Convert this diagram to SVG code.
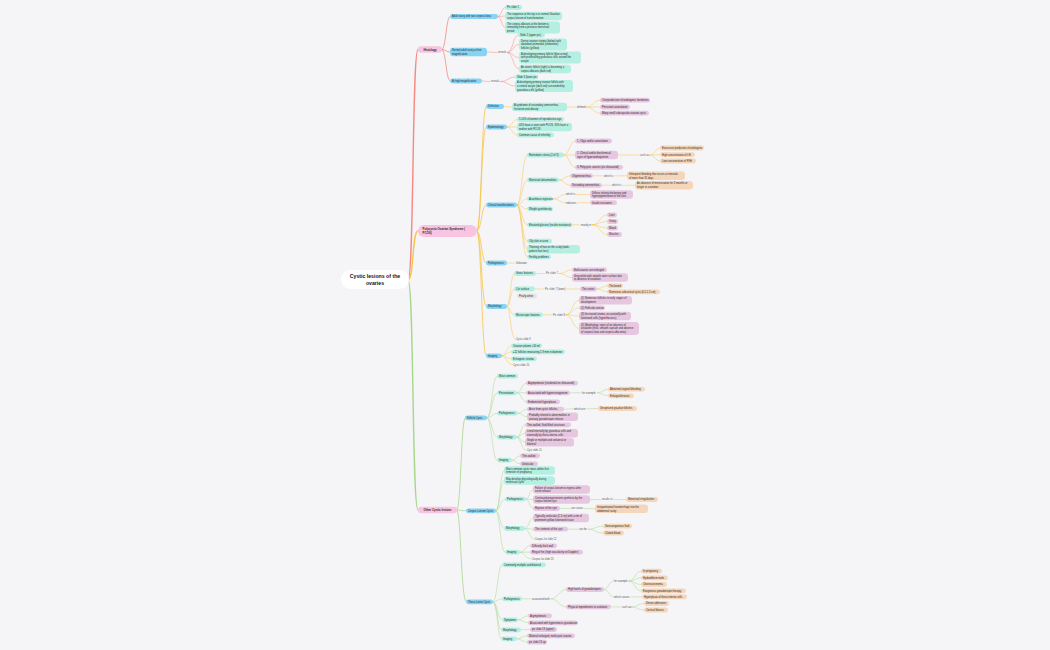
<svg xmlns="http://www.w3.org/2000/svg" width="1050" height="650" viewBox="0 0 1050 650">
<style>
text{font-family:"Liberation Sans",Arial,sans-serif;font-size:2.6px;fill:#2b2b2b}
.l{fill:#555}
.h{font-weight:bold;font-size:2.9px}
.root{font-weight:bold;font-size:5.2px;fill:#111}
.a{fill:#f9c4e1}.b{fill:#86d3f3}.c{fill:#b4efe2}.d{fill:#e7c6df}.e{fill:#f6d6ba}.g{fill:#e4e4e4}
path{fill:none;stroke-linecap:round}
.er{stroke:#f58a80}.ey{stroke:#f6c54a}.eg{stroke:#a6d78a}
.w1{stroke-width:1.4}.w2{stroke-width:0.8}.w3{stroke-width:0.5}
</style>
<rect width="1050" height="650" fill="#f5f5f7"/>
<g id="connectors">
<path class="er w1" d="M408 280 C414 280 412 49.5 418 49.5"/>
<path class="ey w1" d="M408 280 C414 280 412 231 418 231"/>
<path class="eg w1" d="M408 280 C414 280 412 510 418 510"/>
<g class="er w2">
<path d="M442 49.5 C446 49.5 446 16.5 450 16.5"/>
<path d="M442 49.5 C446 49.5 446 52 450 52"/>
<path d="M442 49.5 C446 49.5 446 81 450 81"/>
</g>
<g class="er w3">
<path d="M498 16.5 C501.5 16.5 501.5 7.5 505 7.5"/>
<path d="M498 16.5 C501.5 16.5 501.5 16 505 16"/>
<path d="M498 16.5 C501.5 16.5 501.5 27.5 505 27.5"/>
<path d="M487 52 L497 52.5"/>
<path d="M507.5 52.5 C513 52.5 513 35 518 35"/>
<path d="M507.5 52.5 C513 52.5 513 44.5 519 44.5"/>
<path d="M507.5 52.5 C513 52.5 513 57.5 519 57.5"/>
<path d="M507.5 52.5 C513 52.5 513 69 519 69"/>
<path d="M482 81 L490 81.5"/>
<path d="M500.5 81.5 C508 81.5 508 77 515 77"/>
<path d="M500.5 81.5 C508 81.5 508 86 515 86"/>
</g>
<g class="ey w2">
<path d="M477 231 C481.5 231 481.5 106.5 486 106.5"/>
<path d="M477 231 C481.5 231 481.5 127 486 127"/>
<path d="M477 231 C481.5 231 481.5 205 486 205"/>
<path d="M477 231 C481.5 231 481.5 263 486 263"/>
<path d="M477 231 C481.5 231 481.5 306.5 486 306.5"/>
<path d="M477 231 C481.5 231 481.5 355.8 486 355.8"/>
</g>
<g class="ey w3">
<path d="M504 106.5 C508 106.5 508 107 512 107"/>
<path d="M567 107 L576 107"/>
<path d="M586.5 107 C593.3 107 593.3 100.2 600 100.2"/>
<path d="M586.5 107 L600 107"/>
<path d="M586.5 107 C593.3 107 593.3 113.2 600 113.2"/>
<path d="M507 127 C512 127 512 119.5 517 119.5"/>
<path d="M507 127 L517 127"/>
<path d="M507 127 C512 127 512 135 517 135"/>
<path d="M517 205 C522 205 522 155 527 155"/>
<path d="M517 205 C522 205 522 180 527 180"/>
<path d="M517 205 C522 205 522 198.8 527 198.8"/>
<path d="M517 205 C522 205 522 208.8 527 208.8"/>
<path d="M517 205 C522 205 522 224.8 527 224.8"/>
<path d="M517 205 C522 205 522 241.2 527 241.2"/>
<path d="M517 205 C522 205 522 249.2 527 249.2"/>
<path d="M517 205 C522 205 522 256.8 527 256.8"/>
<path d="M564 155 C569.5 155 569.5 141 575 141"/>
<path d="M564 155 L575 155"/>
<path d="M564 155 C569.5 155 569.5 167.3 575 167.3"/>
<path d="M618 155 L639 155"/>
<path d="M650 155 C655 155 655 148 660 148"/>
<path d="M650 155 C655 155 655 154.7 660 154.7"/>
<path d="M650 155 C655 155 655 161 660 161"/>
<path d="M559 180 C564.5 180 564.5 175.8 570 175.8"/>
<path d="M559 180 C564.5 180 564.5 185.3 570 185.3"/>
<path d="M593 175.8 L603 175.8"/>
<path d="M614.2 175.8 L627 175.8"/>
<path d="M602 185.3 L611 185.3"/>
<path d="M622.2 185.3 L635 185.3"/>
<path d="M553 198.8 C559.5 198.8 559.5 194.5 565.5 194.5"/>
<path d="M553 198.8 C559.5 198.8 559.5 202.7 565.5 202.7"/>
<path d="M576.2 194.5 L590 194.5"/>
<path d="M577.3 202.7 L590 202.7"/>
<path d="M572 224.8 L580 224.8"/>
<path d="M592.3 224.8 C599.6 224.8 599.6 215 607 215"/>
<path d="M592.3 224.8 C599.6 224.8 599.6 221.5 607 221.5"/>
<path d="M592.3 224.8 C599.6 224.8 599.6 228 607 228"/>
<path d="M592.3 224.8 C599.6 224.8 599.6 234.5 607 234.5"/>
<path d="M507 263 L515 263"/>
<path d="M507 306.5 C510.5 306.5 510.5 273.5 514 273.5"/>
<path d="M507 306.5 C510.5 306.5 510.5 289 514 289"/>
<path d="M507 306.5 C510.5 306.5 510.5 314.8 514 314.8"/>
<path d="M507 306.5 C510.5 306.5 510.5 339.5 515.5 339.5"/>
<path d="M536 273.5 L545 273.5"/>
<path d="M559 273.5 C565.5 273.5 565.5 269.8 572 269.8"/>
<path d="M559 273.5 C565.5 273.5 565.5 277.5 572 277.5"/>
<path d="M535 289 L544 289"/>
<path d="M566.5 289 L580 289"/>
<path d="M597 289 C602 289 602 285.8 607 285.8"/>
<path d="M597 289 C602 289 602 291.8 607 291.8"/>
<path d="M543 314.8 L552 314.8"/>
<path d="M566 314.8 C572.5 314.8 572.5 300.2 579 300.2"/>
<path d="M566 314.8 C572.5 314.8 572.5 307.8 579 307.8"/>
<path d="M566 314.8 C572.5 314.8 572.5 316 579 316"/>
<path d="M566 314.8 C572.5 314.8 572.5 328.5 579 328.5"/>
<path d="M502 355.8 C506.5 355.8 506.5 345.8 511 345.8"/>
<path d="M502 355.8 C506.5 355.8 506.5 351.8 511 351.8"/>
<path d="M502 355.8 C506.5 355.8 506.5 358.8 511 358.8"/>
<path d="M502 355.8 C506.5 355.8 506.5 364.8 512.5 364.8"/>
</g>
<g class="eg w2">
<path d="M457 510 C461 510 461 417.8 465 417.8"/>
<path d="M457 510 C461 510 461 510.8 466 510.8"/>
<path d="M457 510 C461 510 461 601.8 466 601.8"/>
</g>
<g class="eg w3">
<path d="M487 417.8 C492 417.8 492 376.2 497 376.2"/>
<path d="M487 417.8 C492 417.8 492 392.8 497 392.8"/>
<path d="M487 417.8 C492 417.8 492 413.2 497 413.2"/>
<path d="M487 417.8 C492 417.8 492 437.2 497 437.2"/>
<path d="M487 417.8 C492 417.8 492 460.2 497 460.2"/>
<path d="M517 392.8 C521.5 392.8 521.5 383.2 526 383.2"/>
<path d="M517 392.8 L526 392.8"/>
<path d="M517 392.8 C521.5 392.8 521.5 401.8 526 401.8"/>
<path d="M570 392.8 L581 392.8"/>
<path d="M597.5 392.8 C602.7 392.8 602.7 389.2 608 389.2"/>
<path d="M597.5 392.8 C602.7 392.8 602.7 395.8 608 395.8"/>
<path d="M518 413.2 C522.5 413.2 522.5 409.2 527 409.2"/>
<path d="M518 413.2 C522.5 413.2 522.5 416.8 527 416.8"/>
<path d="M564 409.2 L573 408.8"/>
<path d="M586.2 408.8 L598 408.5"/>
<path d="M517 437.2 C521 437.2 521 424.8 525 424.8"/>
<path d="M517 437.2 C521 437.2 521 433.2 525 433.2"/>
<path d="M517 437.2 C521 437.2 521 442.2 525 442.2"/>
<path d="M517 437.2 C521 437.2 521 450.5 526.5 450.5"/>
<path d="M512 460.2 C516 460.2 516 455.8 520 455.8"/>
<path d="M512 460.2 C516 460.2 516 463.8 520 463.8"/>
<path d="M496 510.8 C500 510.8 500 470.5 504 470.5"/>
<path d="M496 510.8 C500 510.8 500 480.5 504 480.5"/>
<path d="M496 510.8 C500 510.8 500 499.2 505 499.2"/>
<path d="M496 510.8 C500 510.8 500 528.5 504 528.5"/>
<path d="M496 510.8 C500 510.8 500 552.2 505 552.2"/>
<path d="M526 499.2 C529.5 499.2 529.5 489.5 533 489.5"/>
<path d="M526 499.2 L533 499.5"/>
<path d="M526 499.2 C529.5 499.2 529.5 508.5 533 508.5"/>
<path d="M590 499.5 L601 499.5"/>
<path d="M613.5 499.5 L626 499.5"/>
<path d="M560 508.5 L570 508.5"/>
<path d="M584 508.5 L595 508.8"/>
<path d="M525 528.5 C529 528.5 529 518 533 518"/>
<path d="M525 528.5 C529 528.5 529 529.2 533 529.2"/>
<path d="M525 528.5 C529 528.5 529 539 534.5 539"/>
<path d="M568 529.2 L578 529.2"/>
<path d="M588 529.2 C595.5 529.2 595.5 526.2 603 526.2"/>
<path d="M588 529.2 C595.5 529.2 595.5 533 603 533"/>
<path d="M520 552.2 C525 552.2 525 545.8 530 545.8"/>
<path d="M520 552.2 L530 552.2"/>
<path d="M520 552.2 C525 552.2 525 559 531.5 559"/>
<path d="M493 601.8 C497.5 601.8 497.5 564.8 502 564.8"/>
<path d="M493 601.8 C497.5 601.8 497.5 598.8 502 598.8"/>
<path d="M493 601.8 C497.5 601.8 497.5 619.8 502 619.8"/>
<path d="M493 601.8 C497.5 601.8 497.5 629.8 501 629.8"/>
<path d="M493 601.8 C497.5 601.8 497.5 638.8 501 638.8"/>
<path d="M522 598.8 L531 598.8"/>
<path d="M551 598.8 C558.5 598.8 558.5 589.5 566 589.5"/>
<path d="M551 598.8 C558.5 598.8 558.5 606.8 566 606.8"/>
<path d="M604 589.5 C608.8 589.5 608.8 581 613.5 581"/>
<path d="M604 589.5 C608.8 589.5 608.8 597 613.5 597"/>
<path d="M628.8 581 C635 581 635 571.2 641 571.2"/>
<path d="M628.8 581 C635 581 635 577.8 641 577.8"/>
<path d="M628.8 581 C635 581 635 584.5 641 584.5"/>
<path d="M628.8 581 C635 581 635 590.8 641 590.8"/>
<path d="M631 597 L642 596.8"/>
<path d="M611 606.8 L621 607"/>
<path d="M631 607 C637.5 607 637.5 603.5 644 603.5"/>
<path d="M631 607 C637.5 607 637.5 610 644 610"/>
<path d="M518 619.8 C523 619.8 523 615.8 528 615.8"/>
<path d="M518 619.8 C523 619.8 523 622.8 528 622.8"/>
<path d="M521 629.8 L530 629.5"/>
<path d="M517 638.8 C522 638.8 522 635.8 527 635.8"/>
<path d="M517 638.8 C522 638.8 522 642.2 527 642.2"/>
</g>
</g>
<g id="root"><rect x="341" y="270" width="68" height="19" rx="9.5" fill="#ffffff"/><text class="root" x="375" y="278.3" text-anchor="middle">Cystic lesions of the</text><text class="root" x="375" y="285" text-anchor="middle">ovaries</text></g>
<g id="histology"><rect class="a" x="418" y="46.3" width="24" height="6.4" rx="3.2"/><text class="h" x="430" y="50.5" text-anchor="middle">Histology</text></g>
<g id="h-adult"><rect class="b" x="450" y="14.1" width="48" height="4.8" rx="2.4"/><text x="452" y="17.4">Adult ovary with two corpora lutea</text></g>
<g id="h-pic1"><rect class="c" x="505" y="5.1" width="17" height="4.8" rx="2.4"/><text x="507" y="8.4">Pic slide 1</text></g>
<g id="h-seq"><rect class="c" x="505" y="11.8" width="57" height="8.4" rx="3"/><text x="507" y="15.1">The sequence at the top is in normal Graafian<tspan x="507" dy="3.6">corpus luteum of transformation</tspan></text></g>
<g id="h-ca"><rect class="c" x="505" y="21.5" width="55" height="12" rx="3"/><text x="507" y="24.8">The corpus albicans at the bottom is<tspan x="507" dy="3.6">remaining from a previous menstrual</tspan><tspan x="507" dy="3.6">period</tspan></text></g>
<g id="h-normal"><rect class="b" x="450" y="47.8" width="37" height="8.4" rx="3"/><text x="452" y="51.1">Normal adult ovary at low<tspan x="452" dy="3.6">magnification</tspan></text></g>
<g id="h-rev1"><text class="l" x="498" y="53.4">reveals</text></g>
<g id="h-slide2"><rect class="c" x="518" y="32.6" width="27" height="4.8" rx="2.4"/><text x="520" y="35.9">Slide 2 (upper pic)</text></g>
<g id="h-dense"><rect class="c" x="519" y="38.5" width="48" height="12" rx="3"/><text x="521" y="41.8">Dense ovarian stroma (below) with<tspan x="521" dy="3.6">abundant primordial (unilaminar)</tspan><tspan x="521" dy="3.6">follicles (yellow)</tspan></text></g>
<g id="h-dev"><rect class="c" x="519" y="51.5" width="62" height="12" rx="3"/><text x="521" y="54.8">A developing primary follicle (blue arrow)<tspan x="521" dy="3.6">with proliferating granulosa cells around the</tspan><tspan x="521" dy="3.6">oocyte</tspan></text></g>
<g id="h-atretic"><rect class="c" x="519" y="64.8" width="52" height="8.4" rx="3"/><text x="521" y="68.1">An atretic follicle (right) is becoming a<tspan x="521" dy="3.6">corpus albicans (dark red)</tspan></text></g>
<g id="h-high"><rect class="b" x="450" y="78.6" width="32" height="4.8" rx="2.4"/><text x="452" y="81.9">At high magnification</text></g>
<g id="h-rev2"><text class="l" x="491" y="82.4">reveals</text></g>
<g id="h-slide3"><rect class="c" x="515" y="74.6" width="22" height="4.8" rx="2.4"/><text x="517" y="77.9">Slide 3 (lower pic)</text></g>
<g id="h-primary"><rect class="c" x="515" y="80" width="58" height="12" rx="3"/><text x="517" y="83.3">A developing primary ovarian follicle with<tspan x="517" dy="3.6">a central oocyte (dark red) surrounded by</tspan><tspan x="517" dy="3.6">granulosa cells (yellow)</tspan></text></g>
<g id="pcos"><rect class="a" x="418" y="225" width="59" height="12" rx="6"/><text class="h" x="422.5" y="230.2">Polycystic Ovarian Syndrome (<tspan x="422.5" dy="3.8">PCOS)</tspan></text></g>
<g id="p-def"><rect class="b" x="486" y="104.1" width="18" height="4.8" rx="2.4"/><text x="488" y="107.4">Definition</text></g>
<g id="p-syn"><rect class="c" x="512" y="102.8" width="55" height="8.4" rx="3"/><text x="514" y="106.1">A syndrome of secondary amenorrhea,<tspan x="514" dy="3.6">hirsutism and obesity</tspan></text></g>
<g id="p-defined"><text class="l" x="577" y="107.9">defined</text></g>
<g id="p-over"><rect class="d" x="600" y="97.8" width="50" height="4.8" rx="2.4"/><text x="602" y="101.1">Overproduction of androgenic hormones</text></g>
<g id="p-pers"><rect class="d" x="600" y="104.6" width="30" height="4.8" rx="2.4"/><text x="602" y="107.9">Persistent anovulation</text></g>
<g id="p-many"><rect class="d" x="600" y="110.8" width="49" height="4.8" rx="2.4"/><text x="602" y="114.1">Many small subcapsular ovarian cysts</text></g>
<g id="p-epi"><rect class="b" x="486" y="124.6" width="21" height="4.8" rx="2.4"/><text x="488" y="127.9">Epidemiology</text></g>
<g id="p-e1"><rect class="c" x="517" y="117.1" width="47" height="4.8" rx="2.4"/><text x="519" y="120.4">5-10% of women of reproductive age</text></g>
<g id="p-e2"><rect class="c" x="517" y="122.8" width="55" height="8.4" rx="3"/><text x="519" y="126.1">40% have a sister with PCOS, 35% have a<tspan x="519" dy="3.6">mother with PCOS</tspan></text></g>
<g id="p-e3"><rect class="c" x="517" y="132.6" width="37" height="4.8" rx="2.4"/><text x="519" y="135.9">Common cause of infertility</text></g>
<g id="p-clin"><rect class="b" x="486" y="202.6" width="31" height="4.8" rx="2.4"/><text x="488" y="205.9">Clinical manifestations</text></g>
<g id="p-rot"><rect class="c" x="527" y="152.6" width="37" height="4.8" rx="2.4"/><text x="529" y="155.9">Rotterdam criteria (2 of 3)</text></g>
<g id="p-r1"><rect class="d" x="575" y="138.6" width="37" height="4.8" rx="2.4"/><text x="577" y="141.9">1. Oligo and/or anovulation</text></g>
<g id="p-r2"><rect class="d" x="575" y="150.8" width="43" height="8.4" rx="3"/><text x="577" y="154.1">2. Clinical and/or biochemical<tspan x="577" dy="3.6">signs of hyperandrogenism</tspan></text></g>
<g id="p-suchas"><text class="l" x="640" y="155.9">such as</text></g>
<g id="p-x1"><rect class="e" x="660" y="145.6" width="44" height="4.8" rx="2.4"/><text x="662" y="148.9">Excessive production of androgens</text></g>
<g id="p-x2"><rect class="e" x="660" y="152.3" width="35" height="4.8" rx="2.4"/><text x="662" y="155.6">High concentration of LH</text></g>
<g id="p-x3"><rect class="e" x="660" y="158.6" width="36" height="4.8" rx="2.4"/><text x="662" y="161.9">Low concentration of FSH</text></g>
<g id="p-r3"><rect class="d" x="575" y="164.9" width="48" height="4.8" rx="2.4"/><text x="577" y="168.2">3. Polycystic ovaries (on ultrasound)</text></g>
<g id="p-men"><rect class="c" x="527" y="177.6" width="32" height="4.8" rx="2.4"/><text x="529" y="180.9">Menstrual abnormalities</text></g>
<g id="p-oligo"><rect class="d" x="570" y="173.4" width="23" height="4.8" rx="2.4"/><text x="572" y="176.7">Oligomenorrhea</text></g>
<g id="p-wi1"><text class="l" x="604" y="176.7">which is</text></g>
<g id="p-infreq"><rect class="e" x="627" y="171.6" width="58" height="8.4" rx="3"/><text x="629" y="174.9">Infrequent bleeding that occurs at intervals<tspan x="629" dy="3.6">of more than 35 days</tspan></text></g>
<g id="p-sec"><rect class="d" x="570" y="182.9" width="32" height="4.8" rx="2.4"/><text x="572" y="186.2">Secondary amenorrhea</text></g>
<g id="p-wi2"><text class="l" x="612" y="186.2">which is</text></g>
<g id="p-abs"><rect class="e" x="635" y="181.1" width="58" height="8.4" rx="3"/><text x="637" y="184.4">An absence of menstruation for 3 months or<tspan x="637" dy="3.6">longer in a woman</tspan></text></g>
<g id="p-acan"><rect class="c" x="527" y="196.4" width="26" height="4.8" rx="2.4"/><text x="529" y="199.7">Acanthosis nigricans</text></g>
<g id="p-wi3"><text class="l" x="566" y="195.4">which is</text></g>
<g id="p-diff"><rect class="d" x="590" y="190.3" width="43" height="8.4" rx="3"/><text x="592" y="193.6">Diffuse velvety thickening and<tspan x="592" dy="3.6">hyperpigmentation of the skin</tspan></text></g>
<g id="p-ind"><text class="l" x="566" y="203.6">indicates</text></g>
<g id="p-ins"><rect class="d" x="590" y="200.3" width="27" height="4.8" rx="2.4"/><text x="592" y="203.6">Insulin resistance</text></g>
<g id="p-wt"><rect class="c" x="527" y="206.4" width="26" height="4.8" rx="2.4"/><text x="529" y="209.7">Weight gain/obesity</text></g>
<g id="p-elev"><rect class="c" x="527" y="222.4" width="45" height="4.8" rx="2.4"/><text x="529" y="225.7">Elevated glucose (insulin resistance)</text></g>
<g id="p-mainly"><text class="l" x="581" y="225.7">mainly in</text></g>
<g id="p-liver"><rect class="d" x="607" y="212.6" width="10" height="4.8" rx="2.4"/><text x="609" y="215.9">Liver</text></g>
<g id="p-ovary"><rect class="d" x="607" y="219.1" width="11" height="4.8" rx="2.4"/><text x="609" y="222.4">Ovary</text></g>
<g id="p-blood"><rect class="d" x="607" y="225.6" width="11" height="4.8" rx="2.4"/><text x="609" y="228.9">Blood</text></g>
<g id="p-musc"><rect class="d" x="607" y="232.1" width="15" height="4.8" rx="2.4"/><text x="609" y="235.4">Muscles</text></g>
<g id="p-oily"><rect class="c" x="527" y="238.8" width="25" height="4.8" rx="2.4"/><text x="529" y="242.1">Oily skin or acne</text></g>
<g id="p-thin"><rect class="c" x="527" y="245" width="53" height="8.4" rx="3"/><text x="529" y="248.3">Thinning of hair on the scalp (male-<tspan x="529" dy="3.6">pattern hair loss)</tspan></text></g>
<g id="p-fert"><rect class="c" x="527" y="254.4" width="24" height="4.8" rx="2.4"/><text x="529" y="257.7">Fertility problems</text></g>
<g id="p-path"><rect class="b" x="486" y="260.6" width="21" height="4.8" rx="2.4"/><text x="488" y="263.9">Pathogenesis</text></g>
<g id="p-unk"><text class="l" x="516" y="263.9">Unknown</text></g>
<g id="p-morph"><rect class="b" x="486" y="304.1" width="21" height="4.8" rx="2.4"/><text x="488" y="307.4">Morphology</text></g>
<g id="p-gross"><rect class="c" x="514" y="271.1" width="22" height="4.8" rx="2.4"/><text x="516" y="274.4">Gross features</text></g>
<g id="p-pic7"><text class="l" x="546" y="274.4">Pic slide 7</text></g>
<g id="p-both"><rect class="d" x="572" y="267.4" width="35" height="4.8" rx="2.4"/><text x="574" y="270.7">Both ovaries are enlarged</text></g>
<g id="p-grey"><rect class="d" x="572" y="273.3" width="56" height="8.4" rx="3"/><text x="574" y="276.6">Grey white with smooth outer surface due<tspan x="574" dy="3.6">to absence of ovulation</tspan></text></g>
<g id="p-cut"><rect class="c" x="514" y="286.6" width="21" height="4.8" rx="2.4"/><text x="516" y="289.9">Cut surface</text></g>
<g id="p-pic7l"><text class="l" x="545" y="289.9">Pic slide 7 (lower)</text></g>
<g id="p-cortex"><rect class="d" x="580" y="286.6" width="17" height="4.8" rx="2.4"/><text x="582" y="289.9">The cortex</text></g>
<g id="p-thick"><rect class="e" x="607" y="283.4" width="16" height="4.8" rx="2.4"/><text x="609" y="286.7">Thickened</text></g>
<g id="p-numer"><rect class="e" x="607" y="289.4" width="53" height="4.8" rx="2.4"/><text x="609" y="292.7">Numerous subcortical cysts (0.5-1.5 cm)</text></g>
<g id="p-pearly"><rect class="g" x="517" y="293.6" width="20" height="4.8" rx="2.4"/><text x="519" y="296.9">Pearly white</text></g>
<g id="p-micro"><rect class="c" x="514" y="312.4" width="29" height="4.8" rx="2.4"/><text x="516" y="315.7">Microscopic features</text></g>
<g id="p-pic8"><text class="l" x="553" y="315.7">Pic slide 8</text></g>
<g id="p-m1"><rect class="d" x="579" y="296" width="53" height="8.4" rx="3"/><text x="581" y="299.3">(1) Numerous follicles in early stages of<tspan x="581" dy="3.6">development</tspan></text></g>
<g id="p-m2"><rect class="d" x="579" y="305.4" width="26" height="4.8" rx="2.4"/><text x="581" y="308.7">(2) Follicular atresia</text></g>
<g id="p-m3"><rect class="d" x="579" y="311.8" width="52" height="8.4" rx="3"/><text x="581" y="315.1">(3) Increased stroma, occasionally with<tspan x="581" dy="3.6">luteinized cells (hyperthecosis)</tspan></text></g>
<g id="p-m4"><rect class="d" x="579" y="322" width="60" height="13" rx="3.5"/><text x="581" y="325.6">(4) Morphologic signs of an absence of<tspan x="581" dy="3.6">ovulation (thick, smooth capsule and absence</tspan><tspan x="581" dy="3.6">of corpora lutea and corpora albicantia)</tspan></text></g>
<g id="p-cyst9"><text class="l" x="516" y="340.4">Cysts slide 9</text></g>
<g id="p-img"><rect class="b" x="486" y="353.4" width="16" height="4.8" rx="2.4"/><text x="488" y="356.7">Imaging</text></g>
<g id="p-i1"><rect class="c" x="511" y="343.4" width="31" height="4.8" rx="2.4"/><text x="513" y="346.7">Ovarian volume &gt;10 ml</text></g>
<g id="p-i2"><rect class="c" x="511" y="349.4" width="54" height="4.8" rx="2.4"/><text x="513" y="352.7">≥12 follicles measuring 2-9 mm in diameter</text></g>
<g id="p-i3"><rect class="c" x="511" y="356.4" width="26" height="4.8" rx="2.4"/><text x="513" y="359.7">Echogenic stroma</text></g>
<g id="p-cyst10"><text class="l" x="513" y="365.7">Cysts slide 10</text></g>
<g id="other"><rect class="a" x="418" y="506.8" width="39" height="6.4" rx="3.2"/><text class="h" x="437.5" y="511" text-anchor="middle">Other Cystic lesions</text></g>
<g id="f-cyst"><rect class="b" x="465" y="415.4" width="22" height="4.8" rx="2.4"/><text x="467" y="418.7">Follicle Cysts</text></g>
<g id="f-most"><rect class="c" x="497" y="373.8" width="21" height="4.8" rx="2.4"/><text x="499" y="377.1">Most common</text></g>
<g id="f-pres"><rect class="c" x="497" y="390.4" width="20" height="4.8" rx="2.4"/><text x="499" y="393.7">Presentation</text></g>
<g id="f-asym"><rect class="d" x="526" y="380.8" width="52" height="4.8" rx="2.4"/><text x="528" y="384.1">Asymptomatic (incidental on ultrasound)</text></g>
<g id="f-hyper"><rect class="d" x="526" y="390.4" width="44" height="4.8" rx="2.4"/><text x="528" y="393.7">Associated with hyperestrogenism</text></g>
<g id="f-forex"><text class="l" x="582" y="393.7">for example:</text></g>
<g id="f-bleed"><rect class="e" x="608" y="386.8" width="37" height="4.8" rx="2.4"/><text x="610" y="390.1">Abnormal vaginal bleeding</text></g>
<g id="f-breast"><rect class="e" x="608" y="393.4" width="26" height="4.8" rx="2.4"/><text x="610" y="396.7">Enlarged breasts</text></g>
<g id="f-endo"><rect class="d" x="526" y="399.4" width="34" height="4.8" rx="2.4"/><text x="528" y="402.7">Endometrial hyperplasia</text></g>
<g id="f-path"><rect class="c" x="497" y="410.8" width="21" height="4.8" rx="2.4"/><text x="499" y="414.1">Pathogenesis</text></g>
<g id="f-arise"><rect class="d" x="527" y="406.8" width="37" height="4.8" rx="2.4"/><text x="529" y="410.1">Arise from cystic follicles</text></g>
<g id="f-whichare"><text class="l" x="574" y="409.7">which are</text></g>
<g id="f-unrup"><rect class="e" x="598" y="406.1" width="39" height="4.8" rx="2.4"/><text x="600" y="409.4">Unruptured graafian follicles</text></g>
<g id="f-prob"><rect class="d" x="527" y="412.6" width="51" height="8.4" rx="3"/><text x="529" y="415.9">Probably related to abnormalities in<tspan x="529" dy="3.6">pituitary gonadotropin release</tspan></text></g>
<g id="f-morph"><rect class="c" x="497" y="434.8" width="20" height="4.8" rx="2.4"/><text x="499" y="438.1">Morphology</text></g>
<g id="f-thinf"><rect class="d" x="525" y="422.4" width="46" height="4.8" rx="2.4"/><text x="527" y="425.7">Thin-walled, fluid-filled structures</text></g>
<g id="f-lined"><rect class="d" x="525" y="429" width="53" height="8.4" rx="3"/><text x="527" y="432.3">Lined internally by granulosa cells and<tspan x="527" dy="3.6">externally by theca interna cells</tspan></text></g>
<g id="f-single"><rect class="d" x="525" y="438" width="49" height="8.4" rx="3"/><text x="527" y="441.3">Single or multiple and unilateral or<tspan x="527" dy="3.6">bilateral</tspan></text></g>
<g id="f-cyst11"><text class="l" x="527" y="451.4">Cyst slide 11</text></g>
<g id="f-img"><rect class="c" x="497" y="457.8" width="15" height="4.8" rx="2.4"/><text x="499" y="461.1">Imaging</text></g>
<g id="f-tw"><rect class="d" x="520" y="453.4" width="20" height="4.8" rx="2.4"/><text x="522" y="456.7">Thin-walled</text></g>
<g id="f-uni"><rect class="d" x="520" y="461.4" width="18" height="4.8" rx="2.4"/><text x="522" y="464.7">Unilocular</text></g>
<g id="c-cyst"><rect class="b" x="466" y="508.4" width="30" height="4.8" rx="2.4"/><text x="468" y="511.7">Corpus Luteum Cysts</text></g>
<g id="c-most"><rect class="c" x="504" y="466.3" width="51" height="8.4" rx="3"/><text x="506" y="469.6">Most common cystic mass within first<tspan x="506" dy="3.6">trimester of pregnancy</tspan></text></g>
<g id="c-may"><rect class="c" x="504" y="476.3" width="51" height="8.4" rx="3"/><text x="506" y="479.6">May develop physiologically during<tspan x="506" dy="3.6">menstrual cycle</tspan></text></g>
<g id="c-path"><rect class="c" x="505" y="496.8" width="21" height="4.8" rx="2.4"/><text x="507" y="500.1">Pathogenesis</text></g>
<g id="c-fail"><rect class="d" x="533" y="485.3" width="57" height="8.4" rx="3"/><text x="535" y="488.6">Failure of corpus luteum to regress after<tspan x="535" dy="3.6">ovum release</tspan></text></g>
<g id="c-cont"><rect class="d" x="533" y="495.3" width="57" height="8.4" rx="3"/><text x="535" y="498.6">Continued progesterone synthesis by the<tspan x="535" dy="3.6">corpus luteum cyst</tspan></text></g>
<g id="c-results"><text class="l" x="602" y="500.4">results in</text></g>
<g id="c-irr"><rect class="e" x="626" y="497.1" width="32" height="4.8" rx="2.4"/><text x="628" y="500.4">Menstrual irregularities</text></g>
<g id="c-rup"><rect class="d" x="533" y="506.1" width="27" height="4.8" rx="2.4"/><text x="535" y="509.4">Rupture of the cyst</text></g>
<g id="c-cancause"><text class="l" x="571" y="509.4">can cause</text></g>
<g id="c-intra"><rect class="e" x="595" y="504.6" width="53" height="8.4" rx="3"/><text x="597" y="507.9">Intraperitoneal haemorrhage into the<tspan x="597" dy="3.6">abdominal cavity</tspan></text></g>
<g id="c-morph"><rect class="c" x="504" y="526.1" width="21" height="4.8" rx="2.4"/><text x="506" y="529.4">Morphology</text></g>
<g id="c-typ"><rect class="d" x="533" y="513.8" width="56" height="8.4" rx="3"/><text x="535" y="517.1">Typically unilocular (2-5 cm) with a rim of<tspan x="535" dy="3.6">prominent yellow luteinized tissue</tspan></text></g>
<g id="c-contents"><rect class="d" x="533" y="526.8" width="35" height="4.8" rx="2.4"/><text x="535" y="530.1">The contents of the cyst</text></g>
<g id="c-canbe"><text class="l" x="579" y="530.1">can be</text></g>
<g id="c-sero"><rect class="e" x="603" y="523.8" width="29" height="4.8" rx="2.4"/><text x="605" y="527.1">Serosanguinous fluid</text></g>
<g id="c-clot"><rect class="e" x="603" y="530.6" width="21" height="4.8" rx="2.4"/><text x="605" y="533.9">Clotted blood</text></g>
<g id="c-s12"><text class="l" x="535" y="539.9">Corpus lut slide 12</text></g>
<g id="c-img"><rect class="c" x="505" y="549.8" width="15" height="4.8" rx="2.4"/><text x="507" y="553.1">Imaging</text></g>
<g id="c-diff"><rect class="d" x="530" y="543.4" width="27" height="4.8" rx="2.4"/><text x="532" y="546.7">Diffusely thick wall</text></g>
<g id="c-ring"><rect class="d" x="530" y="549.8" width="53" height="4.8" rx="2.4"/><text x="532" y="553.1">Ring of fire (high vascularity on Doppler)</text></g>
<g id="c-s13"><text class="l" x="532" y="559.9">Corpus lut slide 13</text></g>
<g id="t-cyst"><rect class="b" x="466" y="599.4" width="27" height="4.8" rx="2.4"/><text x="468" y="602.7">Theca Lutein Cysts</text></g>
<g id="t-comm"><rect class="c" x="502" y="562.4" width="44" height="4.8" rx="2.4"/><text x="504" y="565.7">Commonly multiple and bilateral</text></g>
<g id="t-path"><rect class="c" x="502" y="596.4" width="20" height="4.8" rx="2.4"/><text x="504" y="599.7">Pathogenesis</text></g>
<g id="t-assoc"><text class="l" x="532" y="599.7">associated with</text></g>
<g id="t-high"><rect class="d" x="566" y="587.1" width="38" height="4.8" rx="2.4"/><text x="568" y="590.4">High levels of gonadotropins</text></g>
<g id="t-forex"><text class="l" x="614" y="581.9">for example</text></g>
<g id="t-preg"><rect class="e" x="641" y="568.8" width="21" height="4.8" rx="2.4"/><text x="643" y="572.1">In pregnancy</text></g>
<g id="t-mole"><rect class="e" x="641" y="575.4" width="27" height="4.8" rx="2.4"/><text x="643" y="578.7">Hydatidiform mole</text></g>
<g id="t-chorio"><rect class="e" x="641" y="582.1" width="26" height="4.8" rx="2.4"/><text x="643" y="585.4">Choriocarcinoma</text></g>
<g id="t-exo"><rect class="e" x="641" y="588.4" width="45" height="4.8" rx="2.4"/><text x="643" y="591.7">Exogenous gonadotropin therapy</text></g>
<g id="t-causes"><text class="l" x="614" y="597.9">which causes</text></g>
<g id="t-hyp"><rect class="e" x="642" y="594.4" width="45" height="4.8" rx="2.4"/><text x="644" y="597.7">Hyperplasia of theca interna cells</text></g>
<g id="t-phys"><rect class="d" x="566" y="604.4" width="45" height="4.8" rx="2.4"/><text x="568" y="607.7">Physical impediments to ovulation</text></g>
<g id="t-suchas"><text class="l" x="622" y="607.9">such as</text></g>
<g id="t-dense"><rect class="e" x="644" y="601.1" width="25" height="4.8" rx="2.4"/><text x="646" y="604.4">Dense adhesions</text></g>
<g id="t-cort"><rect class="e" x="644" y="607.6" width="24" height="4.8" rx="2.4"/><text x="646" y="610.9">Cortical fibrosis</text></g>
<g id="t-symp"><rect class="c" x="502" y="617.4" width="16" height="4.8" rx="2.4"/><text x="504" y="620.7">Symptoms</text></g>
<g id="t-asym"><rect class="d" x="528" y="613.4" width="24" height="4.8" rx="2.4"/><text x="530" y="616.7">Asymptomatic</text></g>
<g id="t-hyperem"><rect class="d" x="528" y="620.4" width="50" height="4.8" rx="2.4"/><text x="530" y="623.7">Associated with hyperemesis gravidarum</text></g>
<g id="t-morph"><rect class="c" x="501" y="627.4" width="20" height="4.8" rx="2.4"/><text x="503" y="630.7">Morphology</text></g>
<g id="t-pic13"><rect class="d" x="530" y="627.1" width="27" height="4.8" rx="2.4"/><text x="532" y="630.4">pic slide 13 (upper)</text></g>
<g id="t-img"><rect class="c" x="501" y="636.4" width="16" height="4.8" rx="2.4"/><text x="503" y="639.7">Imaging</text></g>
<g id="t-bilat"><rect class="d" x="527" y="633.4" width="48" height="4.8" rx="2.4"/><text x="529" y="636.7">Bilateral enlarged, multicystic ovaries</text></g>
<g id="t-pic13u"><rect class="d" x="527" y="639.8" width="20" height="4.8" rx="2.4"/><text x="529" y="643.1">pic slide 13 up</text></g>
</svg>
